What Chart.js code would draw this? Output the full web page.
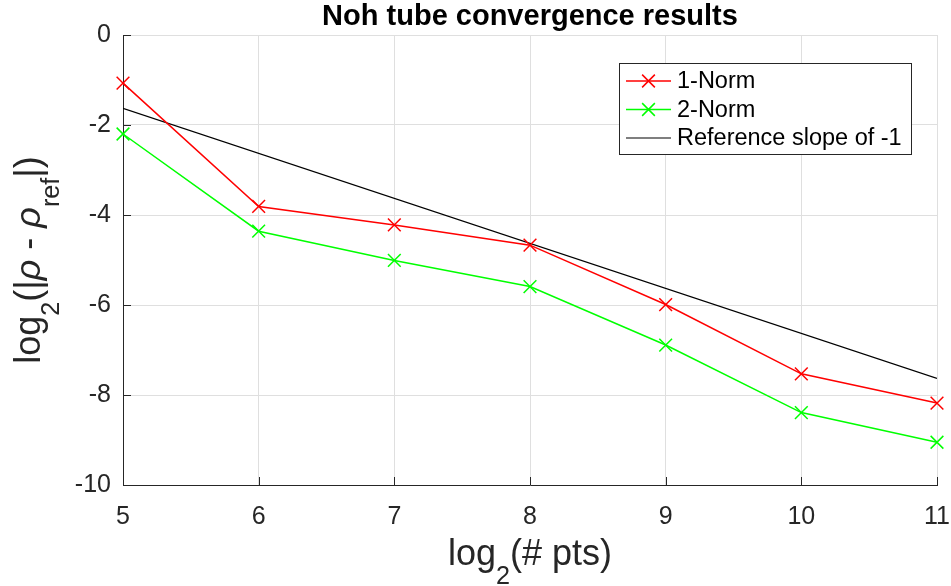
<!DOCTYPE html>
<html>
<head>
<meta charset="utf-8">
<script src="https://cdn.jsdelivr.net/npm/chart.js@4/dist/chart.umd.min.js"></script>
<style>
html, body { margin: 0; padding: 0; background: #fff; }
#wrap { width: 951px; height: 586px; }
</style>
</head>
<body>
<div id="wrap"><canvas id="chart" width="951" height="586"></canvas></div>
<script>
// data
const ptsLog2 = [5, 6, 7, 8, 9, 10, 11];
const norm1 = [-1.07, -3.81, -4.22, -4.67, -5.99, -7.53, -8.18];
const norm2 = [-2.20, -4.36, -5.01, -5.59, -6.89, -8.39, -9.05];
const refX = [5, 11];
const refY = [-1.63, -7.63];

const titleText = 'Noh tube convergence results';
const FONT = '"Liberation Sans", Arial, Helvetica, sans-serif';
const AXIS_COL = '#262626';
const GRID_COL = '#dfdfdf';

const toPts = (xs, ys) => xs.map((x, i) => ({ x: x, y: ys[i] }));

// draws text made of pieces, some of them subscripts
function richWidth(ctx, parts, size) {
    let w = 0;
    parts.forEach(p => {
        const s = p.sub ? size * 0.7 : size;
        ctx.font = (p.italic ? 'italic ' : '') + s + 'px ' + FONT;
        w += ctx.measureText(p.t).width;
    });
    return w;
}
function drawRich(ctx, parts, x, y, size) {
    const total = richWidth(ctx, parts, size);
    let cx = x - total / 2;
    ctx.textAlign = 'left';
    ctx.textBaseline = 'alphabetic';
    parts.forEach(p => {
        const s = p.sub ? size * 0.7 : size;
        ctx.font = (p.italic ? 'italic ' : '') + s + 'px ' + FONT;
        ctx.fillText(p.t, cx, p.sub ? y + size * 0.52 : y);
        cx += ctx.measureText(p.t).width;
    });
}

const decorPlugin = {
    id: 'decor',
    afterDraw(chart) {
        const ctx = chart.ctx;
        const xs = chart.scales.x, ys = chart.scales.y;
        const area = chart.chartArea;
        ctx.save();

        // inward tick marks (matlab style)
        ctx.strokeStyle = AXIS_COL;
        ctx.lineWidth = 1;
        ctx.beginPath();
        xs.ticks.forEach(t => {
            const px = Math.round(xs.getPixelForValue(t.value)) + 0.5;
            ctx.moveTo(px, area.bottom);
            ctx.lineTo(px, area.bottom - 8);
        });
        ys.ticks.forEach(t => {
            const py = Math.round(ys.getPixelForValue(t.value)) + 0.5;
            ctx.moveTo(area.left, py);
            ctx.lineTo(area.left + 8, py);
        });
        ctx.stroke();

        // title
        ctx.fillStyle = '#000';
        ctx.font = 'bold 29px ' + FONT;
        ctx.textAlign = 'center';
        ctx.textBaseline = 'alphabetic';
        ctx.fillText(titleText, (area.left + area.right) / 2, 25);

        // axis titles
        ctx.fillStyle = AXIS_COL;
        drawRich(ctx, [{ t: 'log' }, { t: '2', sub: true }, { t: '(# pts)' }],
            (area.left + area.right) / 2, 565, 36);

        ctx.save();
        ctx.translate(40, (area.top + area.bottom) / 2);
        ctx.rotate(-Math.PI / 2);
        drawRich(ctx, [{ t: 'log' }, { t: '2', sub: true }, { t: '(|' }, { t: 'ρ', italic: true },
            { t: ' - ' }, { t: 'ρ', italic: true }, { t: 'ref', sub: true }, { t: '|)' }], 0, 0, 36);
        ctx.restore();

        // legend
        const lx = 619.5, ly = 63.5, lw = 292, lh = 91;
        ctx.fillStyle = '#fff';
        ctx.fillRect(lx, ly, lw, lh);
        ctx.strokeStyle = AXIS_COL;
        ctx.lineWidth = 1;
        ctx.strokeRect(lx, ly, lw, lh);
        const rowY = [81, 109.5, 138];
        chart.data.datasets.forEach((ds, i) => {
            const y = rowY[i];
            ctx.strokeStyle = ds.borderColor;
            ctx.lineWidth = ds.borderWidth;
            ctx.beginPath();
            ctx.moveTo(626, y);
            ctx.lineTo(671, y);
            ctx.stroke();
            if (ds.pointRadius > 0) {
                const r = ds.pointRadius * Math.SQRT1_2;
                ctx.beginPath();
                ctx.moveTo(648.5 - r, y - r); ctx.lineTo(648.5 + r, y + r);
                ctx.moveTo(648.5 - r, y + r); ctx.lineTo(648.5 + r, y - r);
                ctx.stroke();
            }
            ctx.fillStyle = '#000';
            ctx.font = '23.5px ' + FONT;
            ctx.textAlign = 'left';
            ctx.textBaseline = 'middle';
            ctx.fillText(ds.label, 677, y + 1);
        });
        ctx.restore();
    }
};

function fixBox(w, h) {
    return scale => {
        if (w !== null) scale.width = w;
        if (h !== null) scale.height = h;
        scale.paddingLeft = 0; scale.paddingRight = 0;
        scale.paddingTop = 0; scale.paddingBottom = 0;
    };
}

new Chart(document.getElementById('chart'), {
    type: 'line',
    data: {
        datasets: [{
            label: '1-Norm',
            data: toPts(ptsLog2, norm1),
            borderColor: '#ff0000',
            borderWidth: 1.5,
            pointStyle: 'crossRot',
            pointRadius: 9,
            pointBorderWidth: 1.5,
            pointBorderColor: '#ff0000',
            fill: false,
            clip: false,
            tension: 0
        }, {
            label: '2-Norm',
            data: toPts(ptsLog2, norm2),
            borderColor: '#00ff00',
            borderWidth: 1.5,
            pointStyle: 'crossRot',
            pointRadius: 9,
            pointBorderWidth: 1.5,
            pointBorderColor: '#00ff00',
            fill: false,
            clip: false,
            tension: 0
        }, {
            label: 'Reference slope of -1',
            data: toPts(refX, refY),
            borderColor: '#000000',
            borderWidth: 1.2,
            pointRadius: 0,
            fill: false,
            tension: 0
        }]
    },
    options: {
        responsive: false,
        animation: false,
        devicePixelRatio: 1,
        layout: { padding: { left: 0, top: 35, right: 14, bottom: 0 } },
        plugins: {
            legend: { display: false },
            title: { display: false },
            tooltip: { enabled: false }
        },
        scales: {
            x: {
                type: 'linear',
                min: 5, max: 11,
                afterFit: fixBox(null, 101),
                grid: { color: GRID_COL, lineWidth: 1, drawTicks: false },
                border: { display: true, color: AXIS_COL, width: 1 },
                ticks: {
                    stepSize: 1, padding: 17, color: AXIS_COL,
                    maxRotation: 0, font: { family: FONT, size: 25 }
                }
            },
            y: {
                min: -10, max: 0,
                afterFit: fixBox(123, null),
                grid: { color: GRID_COL, lineWidth: 1, drawTicks: false },
                border: { display: true, color: AXIS_COL, width: 1 },
                ticks: {
                    stepSize: 2, padding: 12, color: AXIS_COL,
                    font: { family: FONT, size: 25 }
                }
            }
        }
    },
    plugins: [decorPlugin]
});
</script>
</body>
</html>
